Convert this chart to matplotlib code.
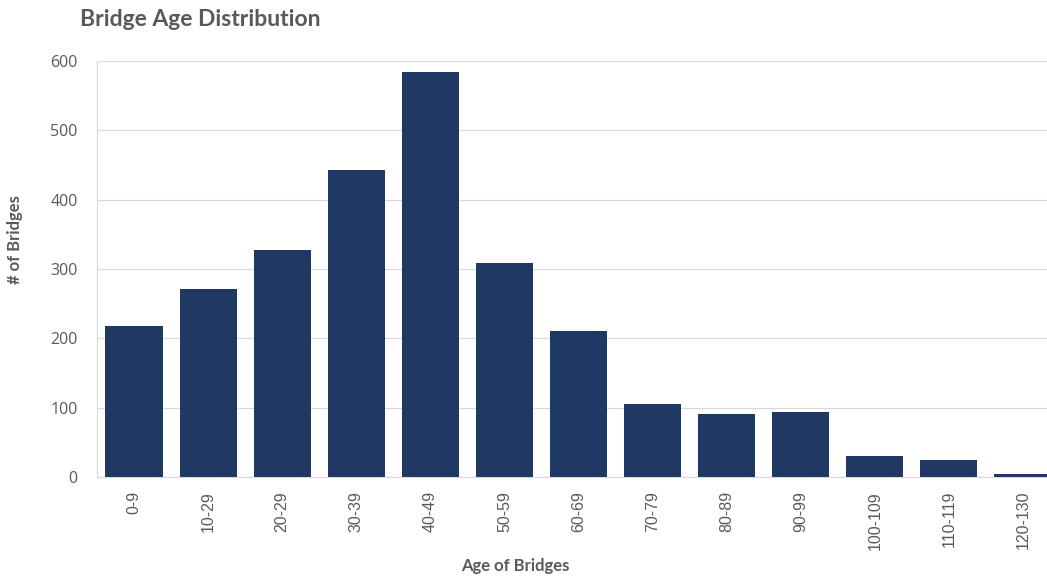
import matplotlib
matplotlib.use("Agg")
import matplotlib.pyplot as plt

# --- datos ---
age_groups = ["0-9", "10-29", "20-29", "30-39", "40-49", "50-59", "60-69",
              "70-79", "80-89", "90-99", "100-109", "110-119", "120-130"]
bridge_counts = [218, 271, 327, 443, 584, 309, 211, 106, 91, 94, 31, 24, 4]
y_ticks = [0, 100, 200, 300, 400, 500, 600]

BAR_COLOR = "#203864"
TEXT_GRAY = "#595959"
GRID_GRAY = "#d9d9d9"

fig = plt.figure(figsize=(10.47, 5.77), dpi=100)
# el gráfico original está recortado a la derecha, por eso el eje pasa de 1.0
ax = fig.add_axes([0.0926, 0.1733, 0.9198, 0.721])

x = range(len(age_groups))
ax.bar(x, bridge_counts, width=0.77, color=BAR_COLOR, zorder=3)

ax.set_xlim(-0.5, len(age_groups) - 0.5)
ax.set_ylim(0, 600)
ax.set_yticks(y_ticks)
ax.set_xticks(list(x))
ax.set_xticklabels(age_groups, rotation=90)

ax.grid(axis="y", color=GRID_GRAY, linewidth=0.9, zorder=0)
for side in ["top", "right"]:
    ax.spines[side].set_visible(False)
ax.spines["left"].set_color(GRID_GRAY)
ax.spines["bottom"].set_color(GRID_GRAY)
ax.tick_params(axis="both", length=0, labelsize=11.5, labelcolor=TEXT_GRAY)
ax.tick_params(axis="y", pad=14)
ax.tick_params(axis="x", pad=10)
for lbl in ax.get_xticklabels():
    lbl.set_family("Liberation Sans")
for lbl in ax.get_yticklabels():
    lbl.set_family("Open Sans")

ax.set_ylabel("# of Bridges", fontsize=12, fontweight="bold", color=TEXT_GRAY,
              family="Lato")
ax.yaxis.set_label_coords(-0.077, 0.57)
ax.set_xlabel("Age of Bridges", fontsize=12, fontweight="bold", color=TEXT_GRAY,
              family="Lato", va="center")
ax.xaxis.set_label_coords((515 - 97) / 963, (477 - 566) / 416)

fig.text(80 / 1047, 1 - 20 / 577, "Bridge Age Distribution", fontsize=16.5,
         fontweight="bold", color=TEXT_GRAY, family="Lato", va="center")

fig.savefig("out.png", dpi=100)
